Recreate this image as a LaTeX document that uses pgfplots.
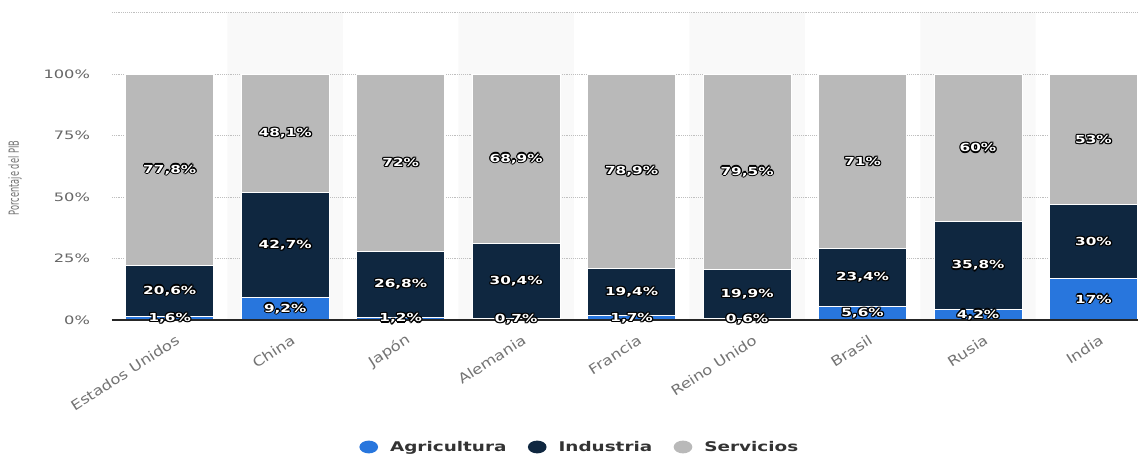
\documentclass[border=0pt]{standalone}
\usepackage{fontspec}
\usepackage{pgfplots}
\usepackage{pgfplotstable}
\pgfplotsset{compat=1.18}
\setmainfont{DejaVu Sans}
\newfontfamily\tickfont{DejaVu Sans}[FakeStretch=1.4]
\newfontfamily\xlabfont{DejaVu Sans}[FakeStretch=1.2]
\newfontfamily\ylabfont{DejaVu Sans}[FakeStretch=0.59]
\newfontfamily\legfont{DejaVu Sans Bold}[FakeStretch=1.38]
\newfontfamily\lblfont{DejaVu Sans Bold}[FakeStretch=1.38]

\definecolor{agri}{HTML}{2876DD}
\definecolor{indu}{HTML}{0F2740}
\definecolor{serv}{HTML}{B9B9B9}
\definecolor{band}{HTML}{F9F9F9}
\definecolor{tick}{HTML}{666666}

% share of GDP by sector, one row per country
\pgfplotstableread{
x  agri  indu  serv
0  1.6   20.6  77.8
1  9.2   42.7  48.1
2  1.2   26.8  72
3  0.7   30.4  68.9
4  1.7   19.4  78.9
5  0.6   19.9  79.5
6  5.6   23.4  71
7  4.2   35.8  60
8  17    30    53
}\gdp

% label positions (middle of each segment)
\pgfplotstableread{
x  y      label
0  0.8    1,6\%
1  4.6    9,2\%
2  0.6    1,2\%
3  0.35   0,7\%
4  0.85   1,7\%
5  0.3    0,6\%
6  2.8    5,6\%
7  2.1    4,2\%
8  8.5    17\%
0  11.9   20,6\%
1  30.55  42,7\%
2  14.6   26,8\%
3  15.9   30,4\%
4  11.4   19,4\%
5  10.55  19,9\%
6  17.3   23,4\%
7  22.1   35,8\%
8  32     30\%
0  61.1   77,8\%
1  75.95  48,1\%
2  64     72\%
3  65.55  68,9\%
4  60.55  78,9\%
5  60.25  79,5\%
6  64.5   71\%
7  70     60\%
8  73.5   53\%
}\labels

\pgfplotsset{
  common/.style={
    at={(0,0)}, anchor=south west, scale only axis,
    x=86.6pt, y=1.845pt,
    xmin=-0.5, xmax=8.5, ymin=0, ymax=125,
  },
  lbl/.style={draw=none, mark=none, nodes near coords, point meta=explicit symbolic,
    every node near coord/.append style={anchor=center, inner sep=0pt,
      font=\lblfont\fontsize{8.3}{10}\selectfont, #1}},
}

\begin{document}
\begin{tikzpicture}
\useasboundingbox (-84pt,-100.5pt) rectangle (769.5pt,240pt);

% alternating background bands
\begin{axis}[common, hide axis]
  \addplot[ybar, bar width=1, bar shift=0pt, fill=band, draw=none]
    coordinates {(1,125) (3,125) (5,125) (7,125)};
\end{axis}

\begin{axis}[common,
  ybar stacked, bar width=66pt,
  axis x line*=bottom, axis y line*=left,
  x axis line style={color=black!85, line width=0.8pt},
  y axis line style={draw=none},
  major tick length=0pt,
  ymajorgrids,
  grid style={densely dotted, color=black!25, line width=0.6pt},
  ytick={0,25,50,75,100,125},
  yticklabels={0\%,25\%,50\%,75\%,100\%,{}},
  yticklabel style={font=\tickfont\fontsize{8.7}{10}\selectfont, color=tick, anchor=east, xshift=-13pt},
  xtick=data,
  xticklabels={Estados Unidos,China,Japón,Alemania,Francia,Reino Unido,Brasil,Rusia,India},
  xticklabel style={font=\xlabfont\fontsize{10.3}{12}\selectfont, color=black!55, rotate=33, anchor=east, yshift=-15pt, xshift=1pt},
  ylabel={Porcentaje del PIB},
  ylabel style={font=\ylabfont\fontsize{10.5}{12}\selectfont, color=black!55, at={(axis description cs:-0.0934,0.462)}, anchor=center},
  legend style={at={(0.4505,-0.413)}, anchor=center, draw=none, fill=none,
    legend columns=-1, font=\legfont\fontsize{10}{12}\selectfont, text=black!80,
    /tikz/every odd column/.append style={column sep=7pt},
    /tikz/every even column/.append style={column sep=14pt}},
  legend image code/.code={\path[#1, draw=none] (4.8pt,0pt) ellipse (7pt and 4.8pt);},
]
  \addplot[fill=agri, draw=white, line width=0.5pt] table[x=x, y=agri] {\gdp};
  \addplot[fill=indu, draw=white, line width=0.5pt] table[x=x, y=indu] {\gdp};
  \addplot[fill=serv, draw=white, line width=0.5pt] table[x=x, y=serv] {\gdp};
  \legend{Agricultura, Industria, Servicios}
\end{axis}

% segment labels: dark outline copies under the white text; x axis line on top
\begin{axis}[common, axis x line*=bottom, axis y line=none,
  x axis line style={color=black!85, line width=0.8pt},
  xtick=\empty, ytick=\empty]
  \addplot[lbl={text=black, xshift=0.9pt}] table[x=x, y=y, meta=label] {\labels};
  \addplot[lbl={text=black, xshift=-0.9pt}] table[x=x, y=y, meta=label] {\labels};
  \addplot[lbl={text=black, yshift=0.9pt}] table[x=x, y=y, meta=label] {\labels};
  \addplot[lbl={text=black, yshift=-0.9pt}] table[x=x, y=y, meta=label] {\labels};
  \addplot[lbl={text=black, xshift=0.65pt, yshift=0.65pt}] table[x=x, y=y, meta=label] {\labels};
  \addplot[lbl={text=black, xshift=-0.65pt, yshift=0.65pt}] table[x=x, y=y, meta=label] {\labels};
  \addplot[lbl={text=black, xshift=0.65pt, yshift=-0.65pt}] table[x=x, y=y, meta=label] {\labels};
  \addplot[lbl={text=black, xshift=-0.65pt, yshift=-0.65pt}] table[x=x, y=y, meta=label] {\labels};
  \addplot[lbl={text=white}] table[x=x, y=y, meta=label] {\labels};
\end{axis}
\end{tikzpicture}
\end{document}
